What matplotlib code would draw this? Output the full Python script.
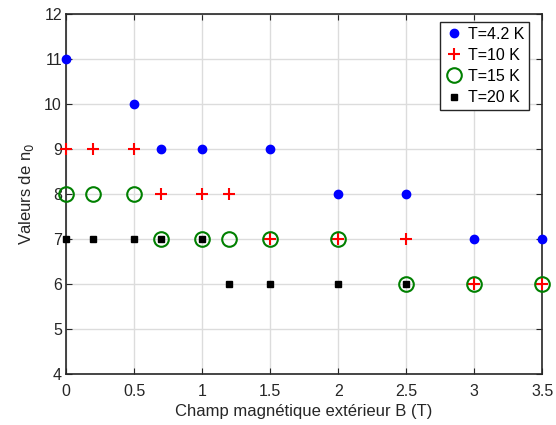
import matplotlib.pyplot as plt

plt.rcParams['font.family'] = ['Liberation Sans', 'DejaVu Sans']

# T = 4.2 K
b_42 = [0, 0.5, 0.7, 1, 1.5, 2, 2.5, 3, 3.5]
n_42 = [11, 10, 9, 9, 9, 8, 8, 7, 7]
# T = 10 K
b_10 = [0, 0.2, 0.5, 0.7, 1, 1.2, 1.5, 2, 2.5, 3, 3.5]
n_10 = [9, 9, 9, 8, 8, 8, 7, 7, 7, 6, 6]
# T = 15 K
b_15 = [0, 0.2, 0.5, 0.7, 1, 1.2, 1.5, 2, 2.5, 3, 3.5]
n_15 = [8, 8, 8, 7, 7, 7, 7, 7, 6, 6, 6]
# T = 20 K
b_20 = [0, 0.2, 0.5, 0.7, 1, 1.2, 1.5, 2, 2.5]
n_20 = [7, 7, 7, 7, 7, 6, 6, 6, 6]

fig = plt.figure(figsize=(5.56, 4.25), dpi=100)
ax = fig.add_axes([0.119, 0.12, 0.856, 0.847])

ax.plot(b_42, n_42, 'o', color='blue', markersize=6, label='T=4.2 K', clip_on=False, zorder=3)
ax.plot(b_10, n_10, '+', color='red', markersize=9, markeredgewidth=1.5, label='T=10 K', clip_on=False, zorder=3)
ax.plot(b_15, n_15, 'o', color='green', markerfacecolor='none', markersize=10.5,
        markeredgewidth=1.5, label='T=15 K', clip_on=False, zorder=3)
ax.plot(b_20, n_20, 's', color='black', markersize=5, label='T=20 K', clip_on=False, zorder=3)

ax.set_xlim(0, 3.5)
ax.set_ylim(4, 12)
ax.set_xticks([0, 0.5, 1, 1.5, 2, 2.5, 3, 3.5])
ax.set_xticklabels(['0', '0.5', '1', '1.5', '2', '2.5', '3', '3.5'])
ax.set_yticks(range(4, 13))
ax.grid(True, color='#dcdcdc', linewidth=1)
ax.set_axisbelow(True)
ax.tick_params(direction='in', top=True, right=True, labelsize=11.5, colors='#262626', length=4)
ax.tick_params(axis='x', pad=7)
ax.tick_params(axis='y', pad=3)
for s in ax.spines.values():
    s.set_color('#262626')
    s.set_linewidth(1.2)

ax.set_xlabel('Champ magnétique extérieur B (T)', fontsize=12, color='#262626', labelpad=4)
ax.set_ylabel('Valeurs de n$_0$', fontsize=12, color='#262626', labelpad=6)

leg = ax.legend(loc='upper right', bbox_to_anchor=(0.951, 0.948), bbox_transform=fig.transFigure,
                fontsize=11.5, handletextpad=0.3, borderpad=0.3, labelspacing=0.38,
                fancybox=False, framealpha=1, handlelength=1.1, borderaxespad=0)
leg.get_frame().set_edgecolor('#262626')
leg.get_frame().set_linewidth(1.0)

fig.savefig('out.png', dpi=100)
